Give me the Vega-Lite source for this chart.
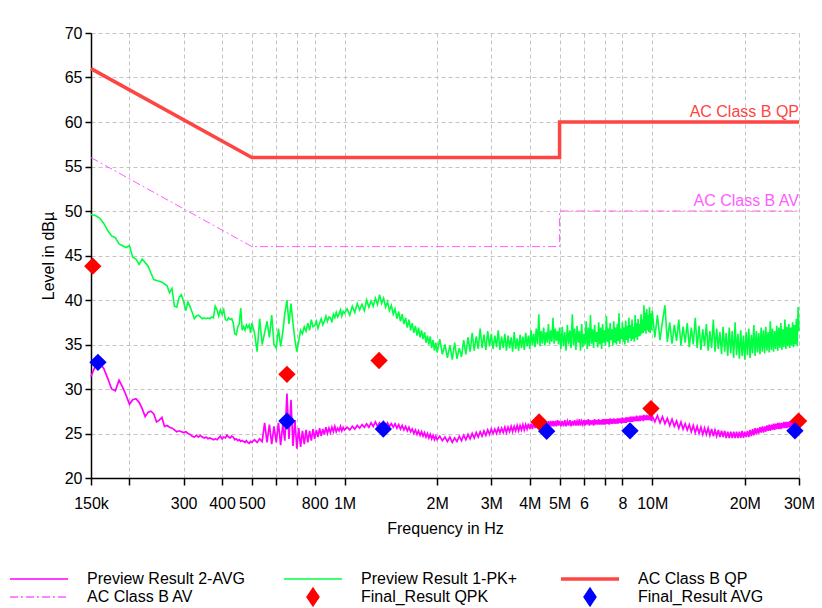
{
  "$schema": "https://vega.github.io/schema/vega-lite/v6.json",
  "width": 708,
  "height": 445,
  "autosize": {"type": "none"},
  "padding": {"left": 91, "top": 33, "right": 23, "bottom": 130},
  "background": "white",
  "config": {
    "font": "Liberation Sans",
    "view": {"stroke": null},
    "axis": {
      "grid": true, "gridDash": [4, 3], "gridColor": "#c4c4c4", "gridWidth": 1, "gridOpacity": 1,
      "domainColor": "#000000", "domainWidth": 1.5,
      "tickColor": "#000000", "tickWidth": 1.5,
      "labelFontSize": 16, "labelColor": "#000000",
      "titleFontSize": 16, "titleFontWeight": "normal", "titleColor": "#000000",
      "labelOverlap": false, "labelFlush": false
    }
  },
  "datasets": {
    "av": [{"f":0.15,"v":56},{"f":0.5,"v":46},{"f":5,"v":46},{"f":5,"v":50},{"f":30,"v":50}],
    "qp": [{"f":0.15,"v":66},{"f":0.5,"v":56},{"f":5,"v":56},{"f":5,"v":60},{"f":30,"v":60}],
    "qpk": [{"f":0.152,"v":43.8},{"f":0.65,"v":31.65},{"f":1.295,"v":33.2},{"f":4.29,"v":26.3},{"f":9.91,"v":27.8},{"f":29.9,"v":26.4}],
    "favg": [{"f":0.158,"v":33.0},{"f":0.65,"v":26.4},{"f":1.337,"v":25.5},{"f":4.54,"v":25.25},{"f":8.47,"v":25.3},{"f":29.1,"v":25.3}],
    "labels": [{"f":30,"v":60,"t":"AC Class B QP"},{"f":30,"v":50,"t":"AC Class B AV"}],
    "pk": [
      {"f":0.15,"v":49.6},{"f":0.155,"v":49.5},{"f":0.16,"v":49.2},{"f":0.165,"v":48.6},{"f":0.17,"v":47.8},{"f":0.175,"v":47.2},{"f":0.18,"v":47.0},{"f":0.185,"v":46.3},{"f":0.19,"v":46.1},{"f":0.195,"v":45.9},
      {"f":0.2,"v":46.1},{"f":0.205,"v":44.8},{"f":0.21,"v":44.6},{"f":0.215,"v":44.0},{"f":0.22,"v":44.6},{"f":0.225,"v":44.2},{"f":0.23,"v":43.8},{"f":0.235,"v":43.0},{"f":0.24,"v":42.3},{"f":0.245,"v":42.2},
      {"f":0.25,"v":42.1},{"f":0.255,"v":42.0},{"f":0.26,"v":41.8},{"f":0.265,"v":41.6},{"f":0.27,"v":40.8},{"f":0.275,"v":41.3},{"f":0.28,"v":39.3},{"f":0.285,"v":39.2},{"f":0.29,"v":40.3},{"f":0.295,"v":40.6},
      {"f":0.3,"v":39.8},{"f":0.305,"v":38.8},{"f":0.31,"v":39.8},{"f":0.315,"v":39.2},{"f":0.32,"v":38.6},{"f":0.325,"v":37.9},{"f":0.33,"v":38.2},{"f":0.335,"v":38.3},{"f":0.34,"v":38.1},{"f":0.345,"v":37.9},
      {"f":0.35,"v":38.0},{"f":0.355,"v":37.9},{"f":0.36,"v":38.0},{"f":0.365,"v":37.9},{"f":0.37,"v":38.1},{"f":0.375,"v":38.0},{"f":0.38,"v":39.3},{"f":0.385,"v":38.9},{"f":0.39,"v":38.2},{"f":0.395,"v":38.9},
      {"f":0.4,"v":38.4},{"f":0.405,"v":38.9},{"f":0.41,"v":37.8},{"f":0.415,"v":37.7},{"f":0.42,"v":38.0},{"f":0.425,"v":37.8},{"f":0.43,"v":37.9},{"f":0.435,"v":37.4},{"f":0.44,"v":36.2},{"f":0.445,"v":36.1},
      {"f":0.45,"v":37.0},{"f":0.455,"v":37.3},{"f":0.46,"v":39.1},{"f":0.465,"v":36.6},{"f":0.47,"v":37.0},{"f":0.475,"v":36.6},{"f":0.48,"v":37.2},{"f":0.485,"v":36.9},{"f":0.49,"v":37.2},{"f":0.495,"v":36.3},
      {"f":0.5,"v":37.4},{"f":0.51,"v":36.3},{"f":0.52,"v":34.2},{"f":0.53,"v":37.9},{"f":0.54,"v":35.0},{"f":0.55,"v":36.3},{"f":0.56,"v":37.6},{"f":0.57,"v":35.8},{"f":0.58,"v":38.3},{"f":0.59,"v":35.0},
      {"f":0.6,"v":34.6},{"f":0.61,"v":36.8},{"f":0.62,"v":34.8},{"f":0.63,"v":36.4},{"f":0.64,"v":38.5},{"f":0.65,"v":40.0},{"f":0.66,"v":37.3},{"f":0.67,"v":39.6},{"f":0.68,"v":37.4},{"f":0.69,"v":35.5},
      {"f":0.7,"v":34.2},{"f":0.71,"v":35.4},{"f":0.72,"v":36.6},{"f":0.73,"v":36.2},{"f":0.74,"v":37.0},{"f":0.75,"v":36.5},{"f":0.76,"v":37.4},{"f":0.77,"v":36.6},{"f":0.78,"v":37.8},{"f":0.79,"v":37.0},
      {"f":0.8,"v":37.1},{"f":0.81,"v":37.6},{"f":0.82,"v":36.8},{"f":0.83,"v":37.4},{"f":0.84,"v":37.9},{"f":0.85,"v":37.2},{"f":0.86,"v":37.6},{"f":0.87,"v":38.2},{"f":0.88,"v":37.6},{"f":0.89,"v":38.1},
      {"f":0.9,"v":38.0},{"f":0.91,"v":37.5},{"f":0.92,"v":38.4},{"f":0.93,"v":38.0},{"f":0.94,"v":38.6},{"f":0.95,"v":38.1},{"f":0.96,"v":38.4},{"f":0.97,"v":38.9},{"f":0.98,"v":38.2},{"f":0.99,"v":38.7},
      {"f":1.0,"v":38.5},{"f":1.02,"v":39.0},{"f":1.04,"v":38.3},{"f":1.06,"v":39.3},{"f":1.08,"v":38.6},{"f":1.1,"v":39.6},{"f":1.12,"v":38.9},{"f":1.14,"v":39.5},{"f":1.16,"v":38.8},{"f":1.18,"v":40.0},
      {"f":1.2,"v":39.2},{"f":1.22,"v":39.9},{"f":1.24,"v":39.3},{"f":1.26,"v":40.2},{"f":1.28,"v":39.5},{"f":1.3,"v":40.6},{"f":1.32,"v":39.6},{"f":1.34,"v":40.2},{"f":1.36,"v":39.2},{"f":1.38,"v":39.8},
      {"f":1.4,"v":38.8},{"f":1.42,"v":39.4},{"f":1.44,"v":38.4},{"f":1.46,"v":39.0},{"f":1.48,"v":37.9},{"f":1.5,"v":38.7},{"f":1.52,"v":37.6},{"f":1.54,"v":38.4},{"f":1.56,"v":37.3},{"f":1.58,"v":38.0},
      {"f":1.6,"v":36.9},{"f":1.62,"v":37.8},{"f":1.64,"v":36.6},{"f":1.66,"v":37.4},{"f":1.68,"v":36.3},{"f":1.7,"v":37.1},{"f":1.72,"v":36.0},{"f":1.74,"v":36.9},{"f":1.76,"v":35.8},{"f":1.78,"v":36.6},
      {"f":1.8,"v":35.6},{"f":1.82,"v":36.4},{"f":1.84,"v":35.2},{"f":1.86,"v":36.0},{"f":1.88,"v":35.0},{"f":1.9,"v":35.9},{"f":1.92,"v":34.6},{"f":1.94,"v":35.5},{"f":1.96,"v":34.3},{"f":1.98,"v":35.2},
      {"f":2.0,"v":34.1},{"f":2.04,"v":35.6},{"f":2.08,"v":33.9},{"f":2.12,"v":35.0},{"f":2.16,"v":33.5},{"f":2.2,"v":34.9},{"f":2.24,"v":33.3},{"f":2.28,"v":35.2},{"f":2.32,"v":33.4},{"f":2.36,"v":34.6},
      {"f":2.4,"v":33.6},{"f":2.44,"v":35.5},{"f":2.48,"v":33.9},{"f":2.52,"v":35.8},{"f":2.56,"v":34.2},{"f":2.6,"v":36.3},{"f":2.64,"v":34.3},{"f":2.68,"v":35.9},{"f":2.72,"v":34.5},{"f":2.76,"v":36.8},
      {"f":2.8,"v":34.6},{"f":2.84,"v":36.1},{"f":2.88,"v":34.4},{"f":2.92,"v":36.5},{"f":2.96,"v":34.8},{"f":3.0,"v":36.2},{"f":3.04,"v":34.5},{"f":3.08,"v":36.0},{"f":3.12,"v":34.7},{"f":3.16,"v":36.6},
      {"f":3.2,"v":34.4},{"f":3.24,"v":35.9},{"f":3.28,"v":34.6},{"f":3.32,"v":36.2},{"f":3.36,"v":34.3},{"f":3.4,"v":36.0},{"f":3.44,"v":34.6},{"f":3.48,"v":35.8},{"f":3.52,"v":34.2},{"f":3.56,"v":36.4},
      {"f":3.6,"v":34.5},{"f":3.64,"v":35.7},{"f":3.68,"v":34.3},{"f":3.72,"v":36.1},{"f":3.76,"v":34.6},{"f":3.8,"v":35.9},{"f":3.84,"v":34.4},{"f":3.88,"v":36.3},{"f":3.92,"v":34.8},{"f":3.96,"v":36.0},
      {"f":4.0,"v":34.5},{"f":4.04,"v":36.6},{"f":4.08,"v":34.9},{"f":4.12,"v":36.2},{"f":4.16,"v":34.7},{"f":4.2,"v":36.8},{"f":4.24,"v":35.0},{"f":4.28,"v":38.4},{"f":4.32,"v":34.8},{"f":4.36,"v":36.5},
      {"f":4.4,"v":35.1},{"f":4.44,"v":36.9},{"f":4.48,"v":34.9},{"f":4.52,"v":36.4},{"f":4.56,"v":35.2},{"f":4.6,"v":37.3},{"f":4.64,"v":35.0},{"f":4.68,"v":36.6},{"f":4.72,"v":35.3},{"f":4.76,"v":38.0},
      {"f":4.8,"v":35.1},{"f":4.84,"v":36.8},{"f":4.88,"v":35.4},{"f":4.92,"v":36.5},{"f":4.96,"v":35.0},{"f":5.0,"v":36.9},{"f":5.05,"v":34.5},{"f":5.1,"v":37.0},{"f":5.15,"v":34.8},{"f":5.2,"v":36.4},
      {"f":5.25,"v":34.3},{"f":5.3,"v":37.2},{"f":5.35,"v":35.0},{"f":5.4,"v":36.6},{"f":5.45,"v":34.6},{"f":5.5,"v":38.4},{"f":5.55,"v":34.9},{"f":5.6,"v":36.8},{"f":5.65,"v":34.4},{"f":5.7,"v":37.1},
      {"f":5.75,"v":35.2},{"f":5.8,"v":36.5},{"f":5.85,"v":34.3},{"f":5.9,"v":37.3},{"f":5.95,"v":34.7},{"f":6.0,"v":36.2},{"f":6.05,"v":35.0},{"f":6.1,"v":37.6},{"f":6.15,"v":34.5},{"f":6.2,"v":36.9},
      {"f":6.25,"v":34.8},{"f":6.3,"v":38.3},{"f":6.35,"v":35.1},{"f":6.4,"v":36.7},{"f":6.45,"v":34.6},{"f":6.5,"v":37.2},{"f":6.55,"v":35.3},{"f":6.6,"v":36.4},{"f":6.65,"v":34.7},{"f":6.7,"v":37.5},
      {"f":6.75,"v":35.0},{"f":6.8,"v":36.9},{"f":6.85,"v":34.5},{"f":6.9,"v":37.3},{"f":6.95,"v":35.2},{"f":7.0,"v":36.6},{"f":7.05,"v":34.9},{"f":7.1,"v":38.2},{"f":7.15,"v":35.3},{"f":7.2,"v":36.8},
      {"f":7.25,"v":34.7},{"f":7.3,"v":37.4},{"f":7.35,"v":35.5},{"f":7.4,"v":36.7},{"f":7.45,"v":34.9},{"f":7.5,"v":37.6},{"f":7.55,"v":35.2},{"f":7.6,"v":36.9},{"f":7.65,"v":35.0},{"f":7.7,"v":37.3},
      {"f":7.75,"v":35.4},{"f":7.8,"v":38.5},{"f":7.85,"v":35.1},{"f":7.9,"v":36.8},{"f":7.95,"v":35.6},{"f":8.0,"v":37.5},{"f":8.05,"v":35.3},{"f":8.1,"v":36.9},{"f":8.15,"v":35.0},{"f":8.2,"v":37.7},
      {"f":8.25,"v":35.5},{"f":8.3,"v":37.1},{"f":8.35,"v":35.2},{"f":8.4,"v":38.0},{"f":8.45,"v":35.7},{"f":8.5,"v":37.2},{"f":8.55,"v":35.4},{"f":8.6,"v":37.8},{"f":8.65,"v":35.6},{"f":8.7,"v":37.0},
      {"f":8.75,"v":35.3},{"f":8.8,"v":38.3},{"f":8.85,"v":35.8},{"f":8.9,"v":37.4},{"f":8.95,"v":35.5},{"f":9.0,"v":37.9},{"f":9.05,"v":35.9},{"f":9.1,"v":37.3},{"f":9.15,"v":36.0},{"f":9.2,"v":38.4},
      {"f":9.25,"v":36.2},{"f":9.3,"v":37.8},{"f":9.35,"v":36.3},{"f":9.4,"v":39.4},{"f":9.45,"v":36.5},{"f":9.5,"v":38.6},{"f":9.55,"v":36.2},{"f":9.6,"v":39.0},{"f":9.65,"v":36.6},{"f":9.7,"v":38.3},
      {"f":9.75,"v":36.4},{"f":9.8,"v":39.2},{"f":9.85,"v":36.3},{"f":9.9,"v":38.5},{"f":9.95,"v":36.6},{"f":10.0,"v":38.8},{"f":10.2,"v":35.8},{"f":10.4,"v":38.3},{"f":10.6,"v":35.5},{"f":10.8,"v":37.6},
      {"f":11.0,"v":39.4},{"f":11.2,"v":35.3},{"f":11.4,"v":37.5},{"f":11.6,"v":35.1},{"f":11.8,"v":37.2},{"f":12.0,"v":35.4},{"f":12.2,"v":37.8},{"f":12.4,"v":34.9},{"f":12.6,"v":37.0},{"f":12.8,"v":35.2},
      {"f":13.0,"v":37.4},{"f":13.2,"v":34.7},{"f":13.4,"v":36.9},{"f":13.6,"v":35.0},{"f":13.8,"v":38.0},{"f":14.0,"v":34.6},{"f":14.2,"v":37.1},{"f":14.4,"v":34.4},{"f":14.6,"v":36.7},{"f":14.8,"v":34.8},
      {"f":15.0,"v":37.3},{"f":15.2,"v":34.3},{"f":15.4,"v":36.5},{"f":15.6,"v":34.6},{"f":15.8,"v":37.8},{"f":16.0,"v":34.2},{"f":16.2,"v":36.8},{"f":16.4,"v":34.5},{"f":16.6,"v":36.4},{"f":16.8,"v":33.9},
      {"f":17.0,"v":37.0},{"f":17.2,"v":34.2},{"f":17.4,"v":36.3},{"f":17.6,"v":33.7},{"f":17.8,"v":36.9},{"f":18.0,"v":34.0},{"f":18.2,"v":36.5},{"f":18.4,"v":33.5},{"f":18.6,"v":37.5},{"f":18.8,"v":33.8},
      {"f":19.0,"v":36.2},{"f":19.2,"v":33.4},{"f":19.4,"v":36.6},{"f":19.6,"v":33.7},{"f":19.8,"v":36.0},{"f":20.0,"v":33.3},{"f":20.2,"v":36.4},{"f":20.4,"v":33.8},{"f":20.6,"v":36.8},{"f":20.8,"v":33.5},
      {"f":21.0,"v":36.1},{"f":21.2,"v":34.0},{"f":21.4,"v":37.2},{"f":21.6,"v":33.7},{"f":21.8,"v":36.5},{"f":22.0,"v":34.1},{"f":22.2,"v":36.3},{"f":22.4,"v":33.9},{"f":22.6,"v":36.9},{"f":22.8,"v":34.2},
      {"f":23.0,"v":36.6},{"f":23.2,"v":34.0},{"f":23.4,"v":37.0},{"f":23.6,"v":34.3},{"f":23.8,"v":36.4},{"f":24.0,"v":34.1},{"f":24.2,"v":37.6},{"f":24.4,"v":34.4},{"f":24.6,"v":36.8},{"f":24.8,"v":34.2},
      {"f":25.0,"v":36.5},{"f":25.2,"v":34.5},{"f":25.4,"v":37.1},{"f":25.6,"v":34.3},{"f":25.8,"v":36.9},{"f":26.0,"v":34.6},{"f":26.2,"v":37.4},{"f":26.4,"v":34.4},{"f":26.6,"v":36.7},{"f":26.8,"v":34.7},
      {"f":27.0,"v":37.8},{"f":27.2,"v":34.5},{"f":27.4,"v":37.0},{"f":27.6,"v":34.8},{"f":27.8,"v":37.3},{"f":28.0,"v":34.6},{"f":28.2,"v":36.9},{"f":28.4,"v":34.9},{"f":28.6,"v":37.5},{"f":28.8,"v":34.7},
      {"f":29.0,"v":37.2},{"f":29.2,"v":35.0},{"f":29.4,"v":37.9},{"f":29.6,"v":34.8},{"f":29.8,"v":39.2},{"f":30.0,"v":36.5}
    ],
    "avg": [
      {"f":0.15,"v":31.4},{"f":0.155,"v":32.6},{"f":0.16,"v":32.9},{"f":0.165,"v":32.3},{"f":0.17,"v":31.2},{"f":0.175,"v":30.0},{"f":0.18,"v":29.8},{"f":0.185,"v":31.0},{"f":0.19,"v":30.2},{"f":0.195,"v":29.3},
      {"f":0.2,"v":28.3},{"f":0.205,"v":28.8},{"f":0.21,"v":28.9},{"f":0.215,"v":28.5},{"f":0.22,"v":27.8},{"f":0.225,"v":26.9},{"f":0.23,"v":27.4},{"f":0.235,"v":27.5},{"f":0.24,"v":27.2},{"f":0.245,"v":26.3},
      {"f":0.25,"v":26.5},{"f":0.255,"v":26.8},{"f":0.26,"v":25.8},{"f":0.265,"v":25.9},{"f":0.27,"v":25.7},{"f":0.275,"v":25.6},{"f":0.28,"v":25.4},{"f":0.285,"v":25.2},{"f":0.29,"v":25.3},{"f":0.295,"v":25.2},
      {"f":0.3,"v":25.1},{"f":0.305,"v":25.2},{"f":0.31,"v":25.0},{"f":0.315,"v":24.9},{"f":0.32,"v":24.7},{"f":0.325,"v":24.6},{"f":0.33,"v":24.8},{"f":0.335,"v":24.6},{"f":0.34,"v":24.8},{"f":0.345,"v":24.6},
      {"f":0.35,"v":24.5},{"f":0.355,"v":24.6},{"f":0.36,"v":24.4},{"f":0.365,"v":24.5},{"f":0.37,"v":24.4},{"f":0.375,"v":24.3},{"f":0.38,"v":24.4},{"f":0.385,"v":24.3},{"f":0.39,"v":24.5},{"f":0.395,"v":24.7},
      {"f":0.4,"v":24.4},{"f":0.405,"v":24.6},{"f":0.41,"v":24.5},{"f":0.415,"v":24.8},{"f":0.42,"v":24.6},{"f":0.425,"v":24.5},{"f":0.43,"v":24.7},{"f":0.435,"v":24.6},{"f":0.44,"v":24.3},{"f":0.445,"v":24.4},
      {"f":0.45,"v":24.2},{"f":0.455,"v":24.3},{"f":0.46,"v":24.1},{"f":0.465,"v":24.2},{"f":0.47,"v":24.1},{"f":0.475,"v":24.0},{"f":0.48,"v":24.2},{"f":0.485,"v":24.0},{"f":0.49,"v":23.9},{"f":0.495,"v":24.1},
      {"f":0.5,"v":24.0},{"f":0.51,"v":24.3},{"f":0.52,"v":24.0},{"f":0.53,"v":24.4},{"f":0.54,"v":24.1},{"f":0.55,"v":26.2},{"f":0.56,"v":24.0},{"f":0.57,"v":26.0},{"f":0.58,"v":23.8},{"f":0.59,"v":25.8},
      {"f":0.6,"v":24.0},{"f":0.61,"v":26.2},{"f":0.62,"v":23.7},{"f":0.63,"v":26.0},{"f":0.64,"v":24.2},{"f":0.65,"v":29.5},{"f":0.66,"v":24.4},{"f":0.67,"v":28.8},{"f":0.68,"v":23.6},{"f":0.69,"v":26.5},
      {"f":0.7,"v":23.3},{"f":0.71,"v":25.6},{"f":0.72,"v":23.5},{"f":0.73,"v":25.3},{"f":0.74,"v":23.8},{"f":0.75,"v":25.4},{"f":0.76,"v":24.0},{"f":0.77,"v":25.3},{"f":0.78,"v":24.2},{"f":0.79,"v":25.5},
      {"f":0.8,"v":24.4},{"f":0.81,"v":25.4},{"f":0.82,"v":24.6},{"f":0.83,"v":25.6},{"f":0.84,"v":24.7},{"f":0.85,"v":25.5},{"f":0.86,"v":24.9},{"f":0.87,"v":25.7},{"f":0.88,"v":25.0},{"f":0.89,"v":25.6},
      {"f":0.9,"v":25.1},{"f":0.91,"v":25.7},{"f":0.92,"v":25.2},{"f":0.93,"v":25.8},{"f":0.94,"v":25.2},{"f":0.95,"v":25.6},{"f":0.96,"v":25.3},{"f":0.97,"v":25.8},{"f":0.98,"v":25.3},{"f":0.99,"v":25.7},
      {"f":1.0,"v":25.4},{"f":1.02,"v":25.7},{"f":1.04,"v":25.4},{"f":1.06,"v":25.8},{"f":1.08,"v":25.5},{"f":1.1,"v":25.9},{"f":1.12,"v":25.6},{"f":1.14,"v":26.0},{"f":1.16,"v":25.7},{"f":1.18,"v":26.1},
      {"f":1.2,"v":25.7},{"f":1.22,"v":26.2},{"f":1.24,"v":25.8},{"f":1.26,"v":26.3},{"f":1.28,"v":25.8},{"f":1.3,"v":26.2},{"f":1.32,"v":25.9},{"f":1.34,"v":26.3},{"f":1.36,"v":25.8},{"f":1.38,"v":26.2},
      {"f":1.4,"v":25.8},{"f":1.42,"v":26.1},{"f":1.44,"v":25.7},{"f":1.46,"v":26.1},{"f":1.48,"v":25.6},{"f":1.5,"v":26.0},{"f":1.52,"v":25.5},{"f":1.54,"v":25.9},{"f":1.56,"v":25.4},{"f":1.58,"v":25.8},
      {"f":1.6,"v":25.3},{"f":1.62,"v":25.7},{"f":1.64,"v":25.2},{"f":1.66,"v":25.5},{"f":1.68,"v":25.0},{"f":1.7,"v":25.4},{"f":1.72,"v":24.9},{"f":1.74,"v":25.3},{"f":1.76,"v":24.8},{"f":1.78,"v":25.2},
      {"f":1.8,"v":24.7},{"f":1.82,"v":25.1},{"f":1.84,"v":24.6},{"f":1.86,"v":25.0},{"f":1.88,"v":24.5},{"f":1.9,"v":24.9},{"f":1.92,"v":24.4},{"f":1.94,"v":24.8},{"f":1.96,"v":24.3},{"f":1.98,"v":24.7},
      {"f":2.0,"v":24.3},{"f":2.04,"v":24.7},{"f":2.08,"v":24.2},{"f":2.12,"v":24.6},{"f":2.16,"v":24.1},{"f":2.2,"v":24.6},{"f":2.24,"v":24.0},{"f":2.28,"v":24.5},{"f":2.32,"v":24.1},{"f":2.36,"v":24.7},
      {"f":2.4,"v":24.2},{"f":2.44,"v":24.8},{"f":2.48,"v":24.3},{"f":2.52,"v":24.9},{"f":2.56,"v":24.4},{"f":2.6,"v":25.0},{"f":2.64,"v":24.5},{"f":2.68,"v":25.1},{"f":2.72,"v":24.6},{"f":2.76,"v":25.2},
      {"f":2.8,"v":24.7},{"f":2.84,"v":25.3},{"f":2.88,"v":24.8},{"f":2.92,"v":25.4},{"f":2.96,"v":24.9},{"f":3.0,"v":25.5},{"f":3.04,"v":25.0},{"f":3.08,"v":25.5},{"f":3.12,"v":25.0},{"f":3.16,"v":25.6},
      {"f":3.2,"v":25.1},{"f":3.24,"v":25.6},{"f":3.28,"v":25.1},{"f":3.32,"v":25.7},{"f":3.36,"v":25.1},{"f":3.4,"v":25.7},{"f":3.44,"v":25.2},{"f":3.48,"v":25.8},{"f":3.52,"v":25.2},{"f":3.56,"v":25.8},
      {"f":3.6,"v":25.3},{"f":3.64,"v":25.9},{"f":3.68,"v":25.3},{"f":3.72,"v":25.9},{"f":3.76,"v":25.4},{"f":3.8,"v":26.0},{"f":3.84,"v":25.4},{"f":3.88,"v":26.0},{"f":3.92,"v":25.5},{"f":3.96,"v":26.1},
      {"f":4.0,"v":25.5},{"f":4.04,"v":26.1},{"f":4.08,"v":25.5},{"f":4.12,"v":26.2},{"f":4.16,"v":25.6},{"f":4.2,"v":26.2},{"f":4.24,"v":25.6},{"f":4.28,"v":26.2},{"f":4.32,"v":25.6},{"f":4.36,"v":26.3},
      {"f":4.4,"v":25.7},{"f":4.44,"v":26.3},{"f":4.48,"v":25.7},{"f":4.52,"v":26.3},{"f":4.56,"v":25.7},{"f":4.6,"v":26.4},{"f":4.64,"v":25.8},{"f":4.68,"v":26.4},{"f":4.72,"v":25.8},{"f":4.76,"v":26.4},
      {"f":4.8,"v":25.8},{"f":4.84,"v":26.4},{"f":4.88,"v":25.8},{"f":4.92,"v":26.5},{"f":4.96,"v":25.9},{"f":5.0,"v":26.4},{"f":5.05,"v":25.8},{"f":5.1,"v":26.4},{"f":5.15,"v":25.8},{"f":5.2,"v":26.5},
      {"f":5.25,"v":25.8},{"f":5.3,"v":26.4},{"f":5.35,"v":25.9},{"f":5.4,"v":26.5},{"f":5.45,"v":25.8},{"f":5.5,"v":26.4},{"f":5.55,"v":25.9},{"f":5.6,"v":26.5},{"f":5.65,"v":25.9},{"f":5.7,"v":26.4},
      {"f":5.75,"v":25.9},{"f":5.8,"v":26.6},{"f":5.85,"v":25.9},{"f":5.9,"v":26.4},{"f":5.95,"v":26.0},{"f":6.0,"v":26.5},{"f":6.05,"v":25.9},{"f":6.1,"v":26.5},{"f":6.15,"v":26.0},{"f":6.2,"v":26.6},
      {"f":6.25,"v":25.9},{"f":6.3,"v":26.5},{"f":6.35,"v":26.0},{"f":6.4,"v":26.5},{"f":6.45,"v":25.9},{"f":6.5,"v":26.6},{"f":6.55,"v":26.0},{"f":6.6,"v":26.5},{"f":6.65,"v":26.0},{"f":6.7,"v":26.6},
      {"f":6.75,"v":26.0},{"f":6.8,"v":26.5},{"f":6.85,"v":26.0},{"f":6.9,"v":26.6},{"f":6.95,"v":26.0},{"f":7.0,"v":26.6},{"f":7.05,"v":26.0},{"f":7.1,"v":26.6},{"f":7.15,"v":26.1},{"f":7.2,"v":26.6},
      {"f":7.25,"v":26.0},{"f":7.3,"v":26.7},{"f":7.35,"v":26.1},{"f":7.4,"v":26.6},{"f":7.45,"v":26.1},{"f":7.5,"v":26.7},{"f":7.55,"v":26.1},{"f":7.6,"v":26.6},{"f":7.65,"v":26.1},{"f":7.7,"v":26.7},
      {"f":7.75,"v":26.1},{"f":7.8,"v":26.7},{"f":7.85,"v":26.2},{"f":7.9,"v":26.7},{"f":7.95,"v":26.1},{"f":8.0,"v":26.8},{"f":8.05,"v":26.2},{"f":8.1,"v":26.7},{"f":8.15,"v":26.2},{"f":8.2,"v":26.8},
      {"f":8.25,"v":26.2},{"f":8.3,"v":26.8},{"f":8.35,"v":26.3},{"f":8.4,"v":26.8},{"f":8.45,"v":26.3},{"f":8.5,"v":26.9},{"f":8.55,"v":26.3},{"f":8.6,"v":26.9},{"f":8.65,"v":26.3},{"f":8.7,"v":26.9},
      {"f":8.75,"v":26.4},{"f":8.8,"v":26.9},{"f":8.85,"v":26.4},{"f":8.9,"v":27.0},{"f":8.95,"v":26.4},{"f":9.0,"v":26.9},{"f":9.05,"v":26.4},{"f":9.1,"v":27.0},{"f":9.15,"v":26.4},{"f":9.2,"v":27.0},
      {"f":9.25,"v":26.5},{"f":9.3,"v":27.0},{"f":9.35,"v":26.4},{"f":9.4,"v":27.1},{"f":9.45,"v":26.5},{"f":9.5,"v":27.0},{"f":9.55,"v":26.5},{"f":9.6,"v":27.1},{"f":9.65,"v":26.5},{"f":9.7,"v":27.0},
      {"f":9.75,"v":26.5},{"f":9.8,"v":27.1},{"f":9.85,"v":26.5},{"f":9.9,"v":27.0},{"f":9.95,"v":26.4},{"f":10.0,"v":27.0},{"f":10.2,"v":26.3},{"f":10.4,"v":27.0},{"f":10.6,"v":26.2},{"f":10.8,"v":26.9},
      {"f":11.0,"v":26.1},{"f":11.2,"v":26.7},{"f":11.4,"v":25.9},{"f":11.6,"v":26.6},{"f":11.8,"v":25.8},{"f":12.0,"v":26.4},{"f":12.2,"v":25.6},{"f":12.4,"v":26.3},{"f":12.6,"v":25.5},{"f":12.8,"v":26.1},
      {"f":13.0,"v":25.4},{"f":13.2,"v":26.0},{"f":13.4,"v":25.2},{"f":13.6,"v":25.9},{"f":13.8,"v":25.1},{"f":14.0,"v":25.8},{"f":14.2,"v":25.0},{"f":14.4,"v":25.7},{"f":14.6,"v":24.9},{"f":14.8,"v":25.6},
      {"f":15.0,"v":24.9},{"f":15.2,"v":25.6},{"f":15.4,"v":24.8},{"f":15.6,"v":25.5},{"f":15.8,"v":24.7},{"f":16.0,"v":25.4},{"f":16.2,"v":24.7},{"f":16.4,"v":25.4},{"f":16.6,"v":24.6},{"f":16.8,"v":25.3},
      {"f":17.0,"v":24.6},{"f":17.2,"v":25.3},{"f":17.4,"v":24.5},{"f":17.6,"v":25.2},{"f":17.8,"v":24.5},{"f":18.0,"v":25.2},{"f":18.2,"v":24.5},{"f":18.4,"v":25.2},{"f":18.6,"v":24.5},{"f":18.8,"v":25.2},
      {"f":19.0,"v":24.5},{"f":19.2,"v":25.2},{"f":19.4,"v":24.5},{"f":19.6,"v":25.3},{"f":19.8,"v":24.5},{"f":20.0,"v":25.2},{"f":20.2,"v":24.6},{"f":20.4,"v":25.3},{"f":20.6,"v":24.6},{"f":20.8,"v":25.4},
      {"f":21.0,"v":24.7},{"f":21.2,"v":25.5},{"f":21.4,"v":24.8},{"f":21.6,"v":25.6},{"f":21.8,"v":24.9},{"f":22.0,"v":25.6},{"f":22.2,"v":25.0},{"f":22.4,"v":25.7},{"f":22.6,"v":25.1},{"f":22.8,"v":25.8},
      {"f":23.0,"v":25.1},{"f":23.2,"v":25.8},{"f":23.4,"v":25.2},{"f":23.6,"v":25.9},{"f":23.8,"v":25.3},{"f":24.0,"v":26.0},{"f":24.2,"v":25.3},{"f":24.4,"v":26.0},{"f":24.6,"v":25.4},{"f":24.8,"v":26.1},
      {"f":25.0,"v":25.4},{"f":25.2,"v":26.1},{"f":25.4,"v":25.5},{"f":25.6,"v":26.2},{"f":25.8,"v":25.5},{"f":26.0,"v":26.2},{"f":26.2,"v":25.5},{"f":26.4,"v":26.2},{"f":26.6,"v":25.6},{"f":26.8,"v":26.3},
      {"f":27.0,"v":25.6},{"f":27.2,"v":26.3},{"f":27.4,"v":25.6},{"f":27.6,"v":26.3},{"f":27.8,"v":25.7},{"f":28.0,"v":26.4},{"f":28.2,"v":25.7},{"f":28.4,"v":26.4},{"f":28.6,"v":25.7},{"f":28.8,"v":26.4},
      {"f":29.0,"v":25.8},{"f":29.2,"v":26.4},{"f":29.4,"v":25.8},{"f":29.6,"v":26.5},{"f":29.8,"v":25.8},{"f":30.0,"v":26.4}
    ]
  },
  "layer": [
    {
      "data": {"name": "av"},
      "mark": {"type": "line", "strokeWidth": 1, "strokeDash": [8, 3, 2, 3]},
      "encoding": {
        "x": {
          "field": "f", "type": "quantitative",
          "scale": {"type": "log", "domain": [0.15, 30], "nice": false},
          "axis": {
            "title": "Frequency in Hz",
            "values": [0.15, 0.2, 0.3, 0.4, 0.5, 0.6, 0.7, 0.8, 1, 2, 3, 4, 5, 6, 7, 8, 10, 20, 30],
            "labelExpr": "datum.value == 0.15 ? '150k' : datum.value == 0.3 ? '300' : datum.value == 0.4 ? '400' : datum.value == 0.5 ? '500' : datum.value == 0.8 ? '800' : datum.value == 1 ? '1M' : datum.value == 2 ? '2M' : datum.value == 3 ? '3M' : datum.value == 4 ? '4M' : datum.value == 5 ? '5M' : datum.value == 6 ? '6' : datum.value == 8 ? '8' : datum.value == 10 ? '10M' : datum.value == 20 ? '20M' : datum.value == 30 ? '30M' : ''",
            "grid": true,
            "tickSize": 7, "labelPadding": 10, "titlePadding": 9
          }
        },
        "y": {
          "field": "v", "type": "quantitative",
          "scale": {"domain": [20, 70], "nice": false, "zero": false},
          "axis": {
            "title": "Level in dBµ",
            "values": [20, 22.5, 25, 27.5, 30, 32.5, 35, 37.5, 40, 42.5, 45, 47.5, 50, 52.5, 55, 57.5, 60, 62.5, 65, 67.5, 70],
            "labelExpr": "datum.value % 5 === 0 ? datum.label : ''",
            "grid": true,
            "tickSize": 6, "labelPadding": 3, "titlePadding": 8
          }
        },
        "color": {
          "datum": "AC Class B AV",
          "scale": {
            "domain": ["Preview Result 2-AVG", "Preview Result 1-PK+", "AC Class B QP", "AC Class B AV", "Final_Result QPK", "Final_Result AVG"],
            "range": ["#ff00ff", "#00ff40", "#ff4444", "#ff5cff", "#ff0000", "#0000ff"]
          },
          "legend": {
            "title": null,
            "orient": "none",
            "direction": "horizontal",
            "legendX": -81,
            "legendY": 538,
            "columns": 3,
            "columnPadding": 36,
            "rowPadding": -2,
            "padding": 0,
            "symbolSize": 3364,
            "symbolStrokeWidth": 1.3,
            "symbolOffset": 21,
            "labelOffset": 40,
            "labelFontSize": 16,
            "labelColor": "#000000",
            "labelLimit": 300,
            "encode": {
              "symbols": {
                "update": {
                  "size": {"value": 3364},
                  "shape": {"signal": "(datum.value == 'Final_Result QPK' || datum.value == 'Final_Result AVG') ? 'M0,-0.31L0.21,0L0,0.31L-0.21,0Z' : 'stroke'"},
                  "fill": {"scale": "color", "field": "value"},
                  "stroke": {"scale": "color", "field": "value"},
                  "strokeWidth": {"signal": "datum.value == 'AC Class B QP' ? 3.5 : 1.3"},
                  "strokeDash": {"signal": "datum.value == 'AC Class B AV' ? [8, 3, 2, 3] : [1, 0]"},
                  "opacity": {"value": 1}
                }
              }
            }
          }
        },
        "order": {"value": null}
      }
    },
    {
      "data": {"name": "qp"},
      "mark": {"type": "line", "strokeWidth": 3.5},
      "encoding": {
        "x": {"field": "f", "type": "quantitative"},
        "y": {"field": "v", "type": "quantitative"},
        "color": {"datum": "AC Class B QP"},
        "order": {"value": null}
      }
    },
    {
      "data": {"name": "pk"},
      "mark": {"type": "line", "strokeWidth": 1.6},
      "encoding": {
        "x": {"field": "f", "type": "quantitative"},
        "y": {"field": "v", "type": "quantitative"},
        "color": {"datum": "Preview Result 1-PK+"}
      }
    },
    {
      "data": {"name": "avg"},
      "mark": {"type": "line", "strokeWidth": 1.7},
      "encoding": {
        "x": {"field": "f", "type": "quantitative"},
        "y": {"field": "v", "type": "quantitative"},
        "color": {"datum": "Preview Result 2-AVG"}
      }
    },
    {
      "data": {"name": "qpk"},
      "mark": {"type": "point", "shape": "diamond", "filled": true, "opacity": 1, "size": 300},
      "encoding": {
        "x": {"field": "f", "type": "quantitative"},
        "y": {"field": "v", "type": "quantitative"},
        "color": {"datum": "Final_Result QPK"}
      }
    },
    {
      "data": {"name": "favg"},
      "mark": {"type": "point", "shape": "diamond", "filled": true, "opacity": 1, "size": 300},
      "encoding": {
        "x": {"field": "f", "type": "quantitative"},
        "y": {"field": "v", "type": "quantitative"},
        "color": {"datum": "Final_Result AVG"}
      }
    },
    {
      "data": {"name": "labels"},
      "mark": {"type": "text", "align": "right", "baseline": "bottom", "dy": -2, "fontSize": 16},
      "encoding": {
        "x": {"field": "f", "type": "quantitative"},
        "y": {"field": "v", "type": "quantitative"},
        "text": {"field": "t"},
        "fill": {"condition": {"test": "datum.t == 'AC Class B QP'", "value": "#ff4444"}, "value": "#ff5cff"}
      }
    }
  ]
}
